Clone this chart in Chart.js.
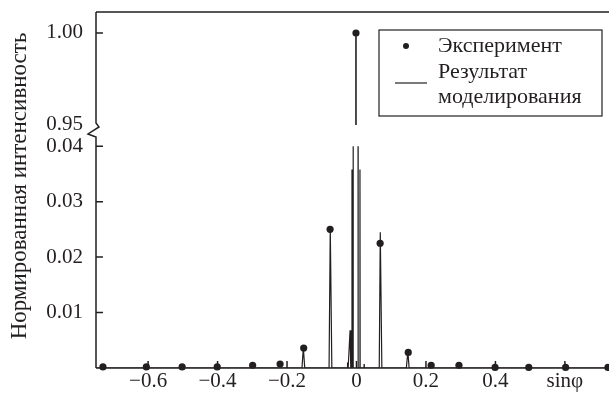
<!DOCTYPE html>
<html>
<head>
<meta charset="utf-8">
<script src="https://cdn.jsdelivr.net/npm/chart.js@4"></script>
<style>
  html, body { margin: 0; padding: 0; background: #fff; }
  #wrap { width: 609px; height: 396px; }
</style>
</head>
<body>
<div id="wrap"><canvas id="chart" width="609" height="396"></canvas></div>
<script>
// experiment (dots)
const expX = [-0.730, -0.605, -0.502, -0.401, -0.299, -0.220, -0.152, -0.076, -0.0015, 0.068, 0.149, 0.215, 0.295, 0.399, 0.496, 0.602, 0.724];
const expY = [0.0002, 0.0002, 0.0002, 0.0002, 0.0005, 0.0007, 0.0036, 0.0250, 1.000, 0.0225, 0.0028, 0.0005, 0.0005, 0.0001, 0.0001, 0.0001, 0.0001];

// simulation, lower part of the broken axis (null = line leaves the lower panel)
const modelLowX = [-0.75, -0.157, -0.153, -0.149, -0.079, -0.0755, -0.071, -0.0265, -0.026, -0.0255, -0.024, -0.0185, -0.0165,
  -0.0135, -0.013, -0.0125, -0.0098, -0.0095, -0.002, 0.0045, 0.0048, 0.0095, 0.010, 0.0105, 0.0215, 0.022, 0.0225,
  0.0655, 0.0685, 0.073, 0.1435, 0.148, 0.1515, 0.727];
const modelLowY = [0, 0, 0.0036, 0, 0, 0.0252, 0, 0, 0.0010, 0, 0, 0.0068, 0,
  0, 0.0358, 0, 0, 0.04, null, 0.04, 0, 0, 0.0358, 0, 0, 0.0007, 0,
  0, 0.0245, 0, 0, 0.0030, 0, 0];
// simulation, upper part
const modelHighX = [-0.0015, -0.0015];
const modelHighY = [0.95, 1.0];

const xTicks = [-0.6, -0.4, -0.2, 0, 0.2, 0.4, 0.6];
const xTickLabels = ['\u22120.6', '\u22120.4', '\u22120.2', '0', '0.2', '0.4', 'sin\u03c6'];
const yLowTicks = [0.01, 0.02, 0.03, 0.04];
const yLowTickLabels = ['0.01', '0.02', '0.03', '0.04'];
const yHighTicks = [0.95, 1.00];
const yHighTickLabels = ['0.95', '1.00'];

const seriesNames = ['Эксперимент', ['Результат', 'моделирования']];
const yTitle = 'Нормированная интенсивность';

const ink = '#231f20';
const serif = '"Liberation Serif", "DejaVu Serif", serif';

const pts = (xs, ys) => xs.map((x, i) => ({ x, y: ys[i] }));
const expAll = pts(expX, expY);
const expLow = expAll.filter(p => p.y < 0.5);
const expHigh = expAll.filter(p => p.y >= 0.5);

const framePlugin = {
  id: 'frame',
  beforeDatasetsDraw(chart) {
    const { ctx, chartArea: a, scales } = chart;
    const xs = scales.x, hi = scales.yHigh, lo = scales.yLow;
    ctx.save();
    ctx.strokeStyle = ink;
    ctx.lineWidth = 1.5;
    ctx.beginPath();
    ctx.moveTo(a.left, a.top); ctx.lineTo(a.right, a.top);
    ctx.moveTo(a.left, a.bottom); ctx.lineTo(a.right, a.bottom);
    // left axis with break
    const b1 = hi.getPixelForValue(0.95);
    ctx.moveTo(a.left, a.top); ctx.lineTo(a.left, b1 - 2);
    ctx.lineTo(a.left + 3, b1 + 2);
    ctx.lineTo(a.left - 8, b1 + 9);
    ctx.lineTo(a.left, b1 + 12);
    ctx.lineTo(a.left, a.bottom);
    // inward ticks
    xs.ticks.forEach(t => {
      const p = xs.getPixelForValue(t.value);
      ctx.moveTo(p, a.bottom); ctx.lineTo(p, a.bottom - 7);
    });
    [hi, lo].forEach(s => s.ticks.forEach(t => {
      if (t.value === 0.95) return;
      const p = s.getPixelForValue(t.value);
      ctx.moveTo(a.left, p); ctx.lineTo(a.left + 7, p);
    }));
    ctx.stroke();
    ctx.restore();
  },
  afterDraw(chart) {
    const { ctx, chartArea: a } = chart;
    ctx.save();
    // axis title
    ctx.fillStyle = ink;
    ctx.font = '23px ' + serif;
    ctx.textAlign = 'center';
    ctx.textBaseline = 'middle';
    ctx.translate(20, (a.top + a.bottom) / 2 - 4);
    ctx.rotate(-Math.PI / 2);
    ctx.fillText(yTitle, 0, 0);
    ctx.restore();

    // legend box
    ctx.save();
    const bx = a.right - 230, by = a.top + 18, bw = 223, bh = 86;
    ctx.fillStyle = '#fff';
    ctx.fillRect(bx, by, bw, bh);
    ctx.strokeStyle = ink;
    ctx.lineWidth = 1.2;
    ctx.strokeRect(bx, by, bw, bh);
    ctx.fillStyle = ink;
    ctx.font = '22px ' + serif;
    ctx.textAlign = 'left';
    ctx.textBaseline = 'middle';
    ctx.beginPath();
    ctx.arc(bx + 27, by + 16, 3, 0, Math.PI * 2);
    ctx.fill();
    ctx.fillText(seriesNames[0], bx + 59, by + 16);
    ctx.beginPath();
    ctx.moveTo(bx + 16, by + 53); ctx.lineTo(bx + 48, by + 53);
    ctx.stroke();
    ctx.fillText(seriesNames[1][0], bx + 59, by + 42);
    ctx.fillText(seriesNames[1][1], bx + 59, by + 67);
    ctx.restore();
  }
};

const tickFont = { family: serif, size: 21 };
const noEdgePad = s => { s.paddingTop = 0; s.paddingBottom = 0; s.paddingLeft = 0; s.paddingRight = 0; };
const noGrid = { display: false, drawTicks: false };

new Chart(document.getElementById('chart'), {
  type: 'scatter',
  data: {
    datasets: [
      { label: 'model-low', data: pts(modelLowX, modelLowY), yAxisID: 'yLow', showLine: true,
        borderColor: ink, borderWidth: 1.2, pointRadius: 0, spanGaps: false },
      { label: 'model-high', data: pts(modelHighX, modelHighY), yAxisID: 'yHigh', showLine: true,
        borderColor: ink, borderWidth: 1.6, pointRadius: 0 },
      { label: 'exp-low', data: expLow, yAxisID: 'yLow', pointRadius: 3.6,
        backgroundColor: ink, borderWidth: 0, clip: 8 },
      { label: 'exp-high', data: expHigh, yAxisID: 'yHigh', pointRadius: 3.6,
        backgroundColor: ink, borderWidth: 0, clip: 8 }
    ]
  },
  options: {
    responsive: false,
    animation: false,
    layout: { autoPadding: false, padding: { top: 12, left: 0, right: 0, bottom: 0 } },
    plugins: { legend: { display: false }, tooltip: { enabled: false } },
    scales: {
      x: {
        type: 'linear', min: -0.75, max: 0.727,
        grid: noGrid, border: { display: false },
        afterBuildTicks: s => { s.ticks = xTicks.map(v => ({ value: v })); },
        afterFit: s => { s.height = 28; noEdgePad(s); },
        ticks: { color: ink, font: tickFont, padding: 1, maxRotation: 0,
          callback: (v, i) => xTickLabels[i] }
      },
      yLow: {
        type: 'linear', position: 'left', stack: 'v', stackWeight: 234,
        min: 0, max: 0.0422,
        grid: noGrid, border: { display: false },
        afterBuildTicks: s => { s.ticks = yLowTicks.map(v => ({ value: v })); },
        afterFit: s => { s.width = 96; noEdgePad(s); },
        ticks: { color: ink, font: tickFont, padding: 13,
          callback: (v, i) => yLowTickLabels[i] }
      },
      yHigh: {
        type: 'linear', position: 'left', stack: 'v', stackWeight: 122,
        min: 0.9451, max: 1.0114,
        grid: noGrid, border: { display: false },
        afterBuildTicks: s => { s.ticks = yHighTicks.map(v => ({ value: v })); },
        afterFit: s => { s.width = 96; noEdgePad(s); },
        ticks: { color: ink, font: tickFont, padding: 13,
          callback: (v, i) => yHighTickLabels[i] }
      }
    }
  },
  plugins: [framePlugin]
});
</script>
</body>
</html>
